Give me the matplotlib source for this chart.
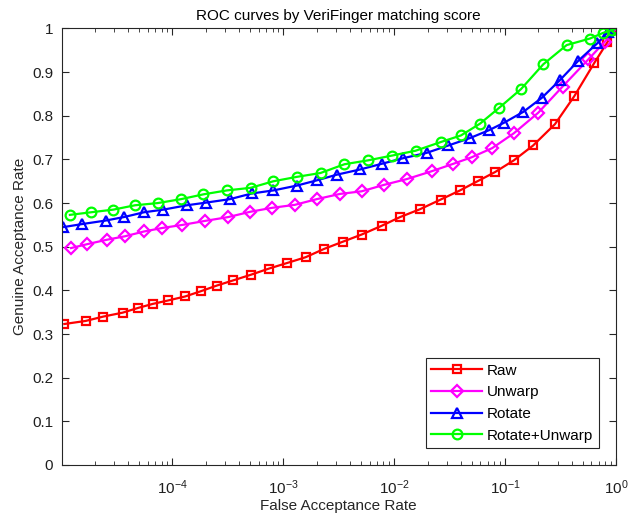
import matplotlib
matplotlib.use("Agg")
import matplotlib.pyplot as plt

# ROC data (FAR on log axis, GAR on linear axis)
raw_far = [1.06e-5, 1.65e-5, 2.38e-5, 3.56e-5, 4.93e-5, 6.64e-5, 9.18e-5, 1.30e-4,
           1.80e-4, 2.51e-4, 3.54e-4, 5.12e-4, 7.43e-4, 1.09e-3, 1.59e-3, 2.33e-3,
           3.48e-3, 5.09e-3, 7.71e-3, 1.13e-2, 1.71e-2, 2.62e-2, 3.92e-2, 5.73e-2,
           8.11e-2, 0.120, 0.179, 0.282, 0.421, 0.637, 0.834, 1.0]
raw_gar = [0.323, 0.330, 0.340, 0.349, 0.360, 0.369, 0.377, 0.386,
           0.398, 0.411, 0.423, 0.436, 0.450, 0.463, 0.476, 0.495,
           0.512, 0.528, 0.548, 0.568, 0.586, 0.608, 0.629, 0.651,
           0.671, 0.698, 0.732, 0.781, 0.845, 0.921, 0.968, 1.0]

unwarp_far = [1.22e-5, 1.71e-5, 2.56e-5, 3.74e-5, 5.55e-5, 8.11e-5, 1.23e-4, 1.95e-4,
              3.19e-4, 5.01e-4, 7.85e-4, 1.27e-3, 2.00e-3, 3.24e-3, 5.09e-3, 8.15e-3,
              1.30e-2, 2.18e-2, 3.41e-2, 5.00e-2, 7.66e-2, 0.120, 0.199, 0.330,
              0.562, 0.796, 1.0]
unwarp_gar = [0.497, 0.506, 0.516, 0.524, 0.535, 0.543, 0.550, 0.559,
              0.568, 0.580, 0.589, 0.596, 0.609, 0.621, 0.627, 0.642,
              0.655, 0.673, 0.690, 0.705, 0.726, 0.760, 0.807, 0.867,
              0.929, 0.970, 1.0]

rotate_far = [1.04e-5, 1.54e-5, 2.50e-5, 3.66e-5, 5.55e-5, 8.28e-5, 1.35e-4, 2.00e-4,
              3.30e-4, 5.19e-4, 8.13e-4, 1.32e-3, 2.00e-3, 3.03e-3, 4.92e-3, 7.71e-3,
              1.21e-2, 1.96e-2, 3.08e-2, 4.83e-2, 7.16e-2, 9.77e-2, 0.146, 0.214,
              0.313, 0.457, 0.678, 0.853, 1.0]
rotate_gar = [0.545, 0.552, 0.560, 0.568, 0.579, 0.585, 0.595, 0.601,
              0.609, 0.622, 0.629, 0.640, 0.652, 0.665, 0.677, 0.690,
              0.703, 0.715, 0.732, 0.749, 0.767, 0.784, 0.809, 0.841,
              0.882, 0.926, 0.966, 0.993, 1.0]

both_far = [1.19e-5, 1.85e-5, 2.93e-5, 4.60e-5, 7.36e-5, 1.195e-4, 1.90e-4, 3.09e-4,
            5.08e-4, 8.13e-4, 1.32e-3, 2.17e-3, 3.56e-3, 5.83e-3, 9.62e-3, 1.56e-2,
            2.64e-2, 4.00e-2, 5.94e-2, 8.81e-2, 0.139, 0.221, 0.359, 0.583,
            0.767, 0.914, 1.0]
both_gar = [0.573, 0.579, 0.585, 0.595, 0.600, 0.609, 0.620, 0.629,
            0.635, 0.650, 0.660, 0.669, 0.689, 0.698, 0.709, 0.720,
            0.740, 0.755, 0.782, 0.818, 0.861, 0.918, 0.962, 0.977,
            0.990, 0.996, 1.0]

x_ticks = [1e-4, 1e-3, 1e-2, 1e-1, 1]
x_tick_labels = ["$10^{-4}$", "$10^{-3}$", "$10^{-2}$", "$10^{-1}$", "$10^{0}$"]
y_ticks = [0, 0.1, 0.2, 0.3, 0.4, 0.5, 0.6, 0.7, 0.8, 0.9, 1]
y_tick_labels = ["0", "0.1", "0.2", "0.3", "0.4", "0.5", "0.6", "0.7", "0.8", "0.9", "1"]

plt.rcParams["font.family"] = ["Liberation Sans", "DejaVu Sans"]
plt.rcParams["font.size"] = 11
plt.rcParams["mathtext.fontset"] = "custom"
plt.rcParams["mathtext.rm"] = "Liberation Sans"
plt.rcParams["mathtext.default"] = "regular"

axis_gray = (0.15, 0.15, 0.15)

fig = plt.figure(figsize=(6.29, 5.2), dpi=100)
ax = fig.add_axes([0.0978, 0.1058, 0.8815, 0.8394])

style = dict(linewidth=1.6, markeredgewidth=1.6, markerfacecolor="none")
ax.plot(raw_far, raw_gar, "s-", color=(1, 0, 0), markersize=6, label="Raw", **style)
ax.plot(unwarp_far, unwarp_gar, "D-", color=(1, 0, 1), markersize=6.5, label="Unwarp", **style)
ax.plot(rotate_far, rotate_gar, "^-", color=(0, 0, 1), markersize=7, label="Rotate", **style)
ax.plot(both_far, both_gar, "o-", color=(0, 1, 0), markersize=7, label="Rotate+Unwarp", **style)

ax.set_xscale("log")
ax.set_xlim(1e-5, 1)
ax.set_ylim(0, 1)
ax.set_xticks(x_ticks)
ax.set_xticklabels(x_tick_labels)
ax.set_yticks(y_ticks)
ax.set_yticklabels(y_tick_labels)

ax.tick_params(which="both", direction="in", top=True, right=True, colors=axis_gray,
               labelcolor=(0.12, 0.12, 0.12), labelsize=11)
ax.tick_params(which="major", length=5, width=0.8)
ax.tick_params(which="minor", length=3, width=0.6)
ax.tick_params(axis="x", which="major", pad=10)
ax.tick_params(axis="y", which="major", pad=6)
for sp in ax.spines.values():
    sp.set_color(axis_gray)
    sp.set_linewidth(0.8)

ax.set_title("ROC curves by VeriFinger matching score", fontsize=11, pad=6)
ax.set_xlabel("False Acceptance Rate", fontsize=11, color=axis_gray, labelpad=1)
ax.set_ylabel("Genuine Acceptance Rate", fontsize=11, color=axis_gray, labelpad=4)

leg = ax.legend(loc="lower right", bbox_to_anchor=(0.969, 0.039), borderaxespad=0,
                fancybox=False, framealpha=1, edgecolor=axis_gray, fontsize=11,
                handlelength=3.3, handletextpad=0.35, labelspacing=0.5, borderpad=0.35)
leg.get_frame().set_linewidth(0.8)

fig.savefig("out.png", dpi=100)
